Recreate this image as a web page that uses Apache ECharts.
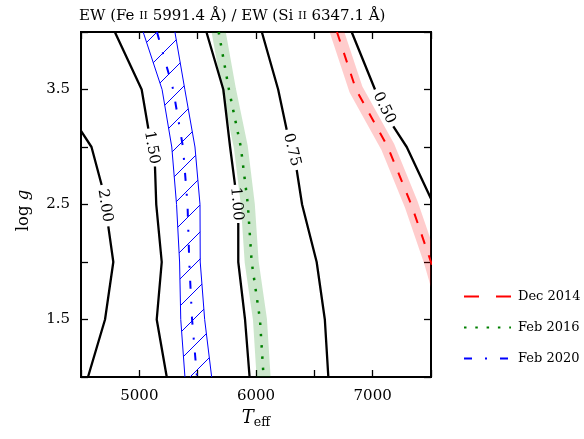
<!DOCTYPE html>
<html><head><meta charset="utf-8">
<script src="https://cdn.jsdelivr.net/npm/echarts@6/dist/echarts.min.js"></script>
<style>html,body{margin:0;padding:0;background:#fff}#c{width:584px;height:439px}</style>
</head><body><div id="c"></div>
<script>
// ---- data (Teff, log g) ----
const xTickLabels = [5000, 6000, 7000];
const yTickLabels = [1.5, 2.5, 3.5];
const contourLevels = ['2.00', '1.50', '1.00', '0.75', '0.50'];
// null marks the gap where the contour label sits
const contour200 = [[4500,3.14],[4590,3.0],[4677,2.67],null,[4734,2.31],[4777,2.0],[4706,1.5],[4560,1.0]];
const contour150 = [[4790,4.0],[5020,3.5],[5077,3.16],null,[5134,2.83],[5145,2.5],[5192,2.0],[5149,1.5],[5235,1.0]];
const contour100 = [[5575,4.0],[5720,3.5],[5778,3.0],[5820,2.67],null,[5848,2.34],[5848,2.0],[5906,1.5],[5945,1.0]];
const contour075 = [[6050,4.0],[6190,3.5],[6263,3.15],null,[6349,2.8],[6395,2.5],[6520,2.0],[6590,1.5],[6620,1.0]];
const contour050 = [[6820,4.0],[7020,3.5],null,[7177,3.18],[7292,3.0],[7500,2.55]];
const contours = [contour200, contour150, contour100, contour075, contour050];

const dec2014 = [[6694,4.0],[6857,3.5],[7130,3.0],[7331,2.5],[7500,2.0],[7640,1.5]];
const feb2016 = [[5680,4.0],[5768,3.5],[5870,3.0],[5930,2.5],[5963,2.0],[6034,1.5],[6065,1.0]];
const feb2020 = [[5151,4.0],[5290,3.5],[5374,3.0],[5413,2.5],[5428,2.0],[5452,1.5],[5494,1.0]];
const feb2020Low = [[5033,4.0],[5195,3.5],[5278,3.0],[5319,2.5],[5345,2.0],[5355,1.5],[5391,1.0]];
const feb2020High = [[5305,4.0],[5390,3.5],[5477,3.0],[5520,2.5],[5522,2.0],[5560,1.5],[5620,1.0]];

const FONT = 'DejaVu Serif';

function gapped(arr) { return arr.map(p => p === null ? ['-', '-'] : p); }

function hatchPattern() {
  const s = 27, c = document.createElement('canvas');
  c.width = s; c.height = s;
  const g = c.getContext('2d');
  g.strokeStyle = '#0000ff'; g.lineWidth = 1;
  g.beginPath();
  g.moveTo(0, s); g.lineTo(s, 0);
  g.moveTo(-2, 2); g.lineTo(2, -2);
  g.moveTo(s - 2, s + 2); g.lineTo(s + 2, s - 2);
  g.stroke();
  return c;
}
const hatch = hatchPattern();

const chart = echarts.init(document.getElementById('c'), null, {renderer: 'canvas'});

const tickStyle = {inside: true, length: 7, lineStyle: {color: '#000', width: 1.3}};
const series = [];

function bandSeries(name, arr, color) {
  return {name: name, type: 'custom', silent: true, z: 1, data: [[0, 0]],
    renderItem: function (params, api) {
      const cs = params.coordSys;
      return {type: 'polyline', shape: {points: arr.map(p => api.coord(p))},
        style: {stroke: color, lineWidth: 14, fill: null, lineCap: 'square', lineJoin: 'round'},
        clipPath: {type: 'rect', shape: {x: cs.x, y: cs.y, width: cs.width, height: cs.height}}};
    }};
}

// bands
series.push(bandSeries('band2014', dec2014, 'rgba(255,0,0,0.2)'));
series.push(bandSeries('band2016', feb2016, 'rgba(0,128,0,0.2)'));
// hatched band 2020
series.push({name: 'hatch2020', type: 'custom', silent: true, z: 2,
  data: [[0, 0]],
  renderItem: function (params, api) {
    const pts = feb2020Low.map(p => api.coord(p)).concat(feb2020High.slice().reverse().map(p => api.coord(p)));
    return {type: 'polygon', shape: {points: pts}, style: {fill: {image: hatch, repeat: 'repeat'}, stroke: null}};
  }});
series.push({name: 'low2020', type: 'line', data: feb2020Low, symbol: 'none', clip: true, silent: true,
  lineStyle: {color: '#0000ff', width: 1}, z: 3});
series.push({name: 'high2020', type: 'line', data: feb2020High, symbol: 'none', clip: true, silent: true,
  lineStyle: {color: '#0000ff', width: 1}, z: 3});

// contours
contours.forEach((c, i) => {
  series.push({name: 'c' + contourLevels[i], type: 'line', data: gapped(c), symbol: 'none', connectNulls: false,
    clip: true, silent: true, lineStyle: {color: '#000', width: 2.3}, z: 4});
});
// contour labels
series.push({name: 'clabels', type: 'custom', silent: true, z: 5,
  data: contourLevels.map((l, i) => [i, 0]),
  renderItem: function (params, api) {
    const i = params.dataIndex;
    const arr = contours[i];
    const k = arr.indexOf(null);
    const c1 = api.coord(arr[k - 1]), c2 = api.coord(arr[k + 1]);
    const ang = Math.atan2(c2[1] - c1[1], c2[0] - c1[0]);
    return {type: 'text', x: (c1[0] + c2[0]) / 2, y: (c1[1] + c2[1]) / 2, rotation: -ang,
      style: {text: contourLevels[i], font: '15px ' + FONT, fill: '#000', align: 'center', verticalAlign: 'middle'}};
  }});

// observation lines
series.push({name: 'Dec 2014', type: 'line', data: dec2014, symbol: 'none', clip: true, silent: true,
  itemStyle: {color: '#ff0000'},
  lineStyle: {color: '#ff0000', width: 2, type: [10, 12]}, z: 6});
series.push({name: 'Feb 2016', type: 'line', data: feb2016, symbol: 'none', clip: true, silent: true,
  itemStyle: {color: '#008000'},
  lineStyle: {color: '#008000', width: 2.5, type: [2.5, 8.8]}, z: 6});
series.push({name: 'Feb 2020', type: 'line', data: feb2020, symbol: 'none', clip: true, silent: true,
  itemStyle: {color: '#0000ff'},
  lineStyle: {color: '#0000ff', width: 2, type: [8, 13, 2, 13]}, z: 6});

const option = {
  animation: false,
  backgroundColor: '#fff',
  title: {
    text: '{a|EW (Fe }{sc|II}{a| 5991.4 Å) / EW (Si }{sc|II}{a| 6347.1 Å)}',
    left: 74, top: 4,
    textStyle: {fontWeight: 'normal', fontFamily: FONT, rich: {
      a: {fontFamily: FONT, fontSize: 15, fontWeight: 'normal', color: '#000'},
      sc: {fontFamily: FONT, fontSize: 11, fontWeight: 'normal', color: '#000'}
    }}
  },
  grid: {left: 81, right: 153, top: 32, bottom: 62, show: true, borderColor: '#000', borderWidth: 2, backgroundColor: 'transparent'},
  legend: {
    orient: 'vertical', left: 458, top: 285, itemWidth: 47, itemHeight: 16, itemGap: 18,
    itemStyle: {opacity: 0, color: 'rgba(0,0,0,0)', borderWidth: 0},
    textStyle: {fontFamily: FONT, fontSize: 13, color: '#000', padding: [0, 0, 0, 2]},
    data: [
      {name: 'Dec 2014', lineStyle: {type: [15, 17]}},
      {name: 'Feb 2016'},
      {name: 'Feb 2020'}
    ]
  },
  xAxis: [
    {type: 'value', min: 4500, max: 7500, interval: 500, position: 'bottom',
      axisLine: {show: false}, axisTick: tickStyle, splitLine: {show: false},
      axisLabel: {color: '#000', fontFamily: FONT, fontSize: 15, margin: 12,
        formatter: v => xTickLabels.indexOf(v) >= 0 ? String(v) : ''},
      name: '{i|T}{s|eff}', nameLocation: 'middle', nameGap: 21,
      nameTextStyle: {rich: {
        i: {fontFamily: FONT, fontSize: 18, fontStyle: 'italic', color: '#000'},
        s: {fontFamily: FONT, fontSize: 12.5, color: '#000', padding: [9, 0, 0, 0]}
      }}},
    {type: 'value', min: 4500, max: 7500, interval: 500, position: 'top',
      axisLine: {show: false}, axisTick: tickStyle, splitLine: {show: false}, axisLabel: {show: false}}
  ],
  yAxis: [
    {type: 'value', min: 1, max: 4, interval: 0.5, position: 'left',
      axisLine: {show: false}, axisTick: tickStyle, splitLine: {show: false},
      axisLabel: {color: '#000', fontFamily: FONT, fontSize: 15, margin: 11,
        formatter: v => yTickLabels.some(t => Math.abs(t - v) < 1e-9) ? v.toFixed(1) : ''},
      name: '{n|log }{i|g}', nameLocation: 'middle', nameGap: 49,
      nameTextStyle: {padding: [0, 12, 0, 0], rich: {
        n: {fontFamily: FONT, fontSize: 16.5, color: '#000'},
        i: {fontFamily: FONT, fontSize: 16.5, fontStyle: 'italic', color: '#000'}
      }}},
    {type: 'value', min: 1, max: 4, interval: 0.5, position: 'right',
      axisLine: {show: false}, axisTick: tickStyle, splitLine: {show: false}, axisLabel: {show: false}}
  ],
  series: series
};
chart.setOption(option);
</script>
</body></html>
